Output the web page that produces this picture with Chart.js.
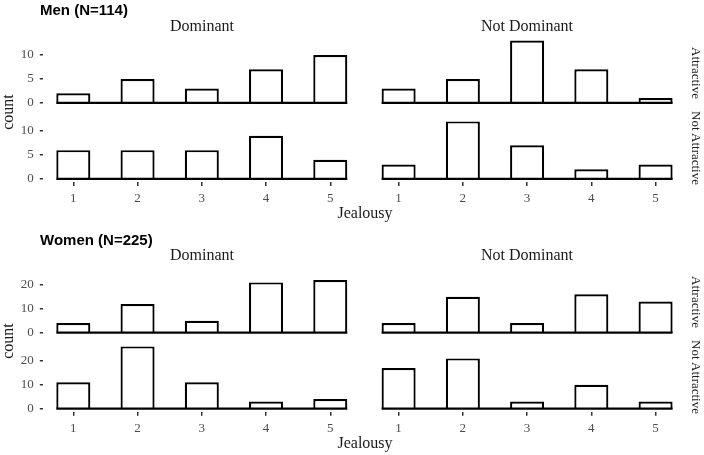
<!DOCTYPE html>
<html>
<head>
<meta charset="utf-8">
<script src="https://cdn.jsdelivr.net/npm/chart.js@4.4.1/dist/chart.umd.min.js"></script>
<style>
  body { margin: 0; background: #fff; }
  #wrap { position: relative; width: 704px; height: 455px; overflow: hidden; }
  #wrap canvas { position: absolute; left: 0; top: 0; }
  .t { position: absolute; white-space: nowrap; line-height: 1; font-family: "Liberation Serif", "Times New Roman", serif; color: #1a1a1a; }
  .head { font-family: "Liberation Sans", Arial, sans-serif; font-weight: bold; font-size: 15px; color: #000; transform: translateY(-50%); }
  .strip { font-size: 16px; transform: translate(-50%, -50%); }
  .side { font-size: 13px; transform: translate(-50%, -50%) rotate(90deg); }
  .ylab { font-size: 16px; transform: translate(-50%, -50%) rotate(-90deg); }
  .xlab { font-size: 16px; transform: translate(-50%, -50%); }
</style>
</head>
<body>
<div id="wrap">
  <canvas id="menDomAttr" width="704" height="455"></canvas>
  <canvas id="menNotDomAttr" width="704" height="455"></canvas>
  <canvas id="menDomNotAttr" width="704" height="455"></canvas>
  <canvas id="menNotDomNotAttr" width="704" height="455"></canvas>
  <canvas id="womenDomAttr" width="704" height="455"></canvas>
  <canvas id="womenNotDomAttr" width="704" height="455"></canvas>
  <canvas id="womenDomNotAttr" width="704" height="455"></canvas>
  <canvas id="womenNotDomNotAttr" width="704" height="455"></canvas>

  <div class="t head" style="left:40px; top:9px;">Men (N=114)</div>
  <div class="t strip" style="left:202px; top:26px;">Dominant</div>
  <div class="t strip" style="left:527px; top:26px;">Not Dominant</div>
  <div class="t side" style="left:696px; top:73px;">Attractive</div>
  <div class="t side" style="left:696px; top:148px;">Not Attractive</div>
  <div class="t ylab" style="left:8px; top:112px;">count</div>
  <div class="t xlab" style="left:365px; top:213px;">Jealousy</div>

  <div class="t head" style="left:40px; top:239px;">Women (N=225)</div>
  <div class="t strip" style="left:202px; top:255px;">Dominant</div>
  <div class="t strip" style="left:527px; top:255px;">Not Dominant</div>
  <div class="t side" style="left:696px; top:302px;">Attractive</div>
  <div class="t side" style="left:696px; top:377px;">Not Attractive</div>
  <div class="t ylab" style="left:8px; top:341px;">count</div>
  <div class="t xlab" style="left:365px; top:443px;">Jealousy</div>
</div>

<script>
// jealousy rating (x) and counts per facet
const jealousy = [1, 2, 3, 4, 5];

const menDomAttr = [2, 5, 3, 7, 10];
const menNotDomAttr = [3, 5, 13, 7, 1];
const menDomNotAttr = [6, 6, 6, 9, 4];
const menNotDomNotAttr = [3, 12, 7, 2, 3];

const womenDomAttr = [4, 12, 5, 21, 22];
const womenNotDomAttr = [4, 15, 4, 16, 13];
const womenDomNotAttr = [11, 26, 11, 3, 4];
const womenNotDomNotAttr = [17, 21, 3, 10, 3];

const menTicks = [0, 5, 10];
const womenTicks = [0, 10, 20];

const W = 704, H = 455;
const Y_AXIS_W = 38;
const X_AXIS_H = 24;

// panel columns / rows (pixel boxes of each facet)
const cols = [{ l: 42.8, r: 360.8 }, { l: 368.1, r: 686.1 }];
const menRows = [{ t: 37.5, b: 106 }, { t: 113.5, b: 182 }];
const womenRows = [{ t: 267.3, b: 335.8 }, { t: 343.3, b: 411.8 }];

Chart.defaults.font.family = '"Liberation Serif", "Times New Roman", serif';
Chart.defaults.font.size = 13;
Chart.defaults.color = '#4d4d4d';

// draws the zero line from the first bar edge to the last one
const baseline = {
  id: 'baseline',
  afterDatasetsDraw(chart) {
    const bars = chart.getDatasetMeta(0).data;
    const first = bars[0];
    const last = bars[bars.length - 1];
    const y0 = chart.scales.y.getPixelForValue(0);
    const ctx = chart.ctx;
    ctx.save();
    ctx.beginPath();
    ctx.moveTo(first.x - first.width / 2, y0);
    ctx.lineTo(last.x + last.width / 2, y0);
    ctx.lineWidth = 2.2;
    ctx.strokeStyle = '#000';
    ctx.stroke();
    ctx.restore();
  }
};

function drawPanel(id, counts, col, row, yTicks, groupMax, showY, showX) {
  const pad = {
    left: col.l - (showY ? Y_AXIS_W : 0),
    top: row.t,
    right: W - col.r,
    bottom: H - row.b - (showX ? X_AXIS_H : 0)
  };
  const ctx = document.getElementById(id);
  return new Chart(ctx, {
    type: 'bar',
    data: {
      datasets: [{
        data: jealousy.map((j, i) => ({ x: j, y: counts[i] })),
        backgroundColor: '#ffffff',
        borderColor: '#000000',
        borderWidth: 2.2,
        barPercentage: 0.53,
        categoryPercentage: 1
      }]
    },
    options: {
      responsive: false,
      animation: false,
      devicePixelRatio: 1,
      layout: { padding: pad },
      plugins: { legend: { display: false }, tooltip: { enabled: false } },
      scales: {
        x: {
          type: 'linear',
          display: showX,
          offset: false,
          min: 0.75 - 0.225,
          max: 5.25 + 0.225,
          afterBuildTicks: (s) => { s.ticks = jealousy.map(v => ({ value: v })); },
          afterFit: (s) => { if (showX) s.height = X_AXIS_H; },
          grid: { offset: false, drawOnChartArea: false, drawTicks: true, tickLength: 4, color: '#333', tickColor: '#333', lineWidth: 1.5 },
          border: { display: false },
          ticks: { padding: 5, maxRotation: 0, font: { size: 13 } }
        },
        y: {
          display: showY,
          min: -0.05 * groupMax,
          max: 1.05 * groupMax,
          afterBuildTicks: (s) => { s.ticks = yTicks.map(v => ({ value: v })); },
          afterFit: (s) => { if (showY) s.width = Y_AXIS_W; },
          grid: { drawOnChartArea: false, drawTicks: true, tickLength: 3, color: '#333', tickColor: '#333', lineWidth: 1.5 },
          border: { display: false },
          ticks: { padding: 6, font: { size: 13 } }
        }
      }
    },
    plugins: [baseline]
  });
}

const menMax = Math.max(...menDomAttr, ...menNotDomAttr, ...menDomNotAttr, ...menNotDomNotAttr);
const womenMax = Math.max(...womenDomAttr, ...womenNotDomAttr, ...womenDomNotAttr, ...womenNotDomNotAttr);

drawPanel('menDomAttr', menDomAttr, cols[0], menRows[0], menTicks, menMax, true, false);
drawPanel('menNotDomAttr', menNotDomAttr, cols[1], menRows[0], menTicks, menMax, false, false);
drawPanel('menDomNotAttr', menDomNotAttr, cols[0], menRows[1], menTicks, menMax, true, true);
drawPanel('menNotDomNotAttr', menNotDomNotAttr, cols[1], menRows[1], menTicks, menMax, false, true);

drawPanel('womenDomAttr', womenDomAttr, cols[0], womenRows[0], womenTicks, womenMax, true, false);
drawPanel('womenNotDomAttr', womenNotDomAttr, cols[1], womenRows[0], womenTicks, womenMax, false, false);
drawPanel('womenDomNotAttr', womenDomNotAttr, cols[0], womenRows[1], womenTicks, womenMax, true, true);
drawPanel('womenNotDomNotAttr', womenNotDomNotAttr, cols[1], womenRows[1], womenTicks, womenMax, false, true);
</script>
</body>
</html>
